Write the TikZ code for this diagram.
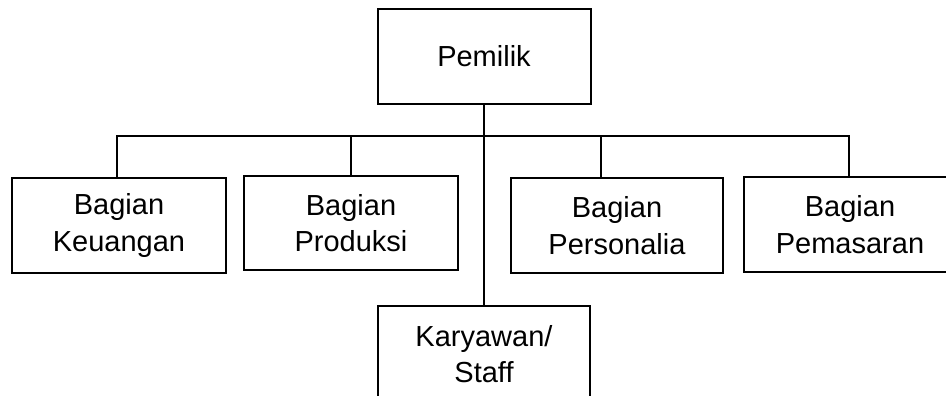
\documentclass[tikz,border=0pt]{standalone}
\usepackage{fontspec}
\setmainfont{Liberation Sans}
\begin{document}
\begin{tikzpicture}[x=1pt,y=-1pt,
  orgbox/.style={draw=black,line width=2pt,fill=white,rectangle,minimum width=213pt,minimum height=95pt,inner sep=0pt,align=center,font=\fontsize{29}{36.5}\selectfont},
  link/.style={draw=black,line width=2pt}]
\useasboundingbox (0,0) rectangle (946,396);
\clip (0,0) rectangle (946,396);
\fill[white] (0,0) rectangle (946,396);
\node[orgbox] (pem) at (484,56.5) {Pemilik};
\node[orgbox,minimum width=214pt] (keu) at (119,225.5) {Bagian\\Keuangan};
\node[orgbox,minimum width=214pt,minimum height=94pt] (pro) at (351,223) {Bagian\\Produksi};
\node[orgbox,minimum width=212pt] (per) at (617,225.5) {Bagian\\Personalia};
\node[orgbox,minimum width=212pt] (pms) at (850,224.5) {Bagian\\Pemasaran};
\node[orgbox,minimum width=212pt,minimum height=96pt] (kar) at (484,354) {Karyawan/\\Staff};
\coordinate (bus) at (484,136);
\draw[link] (pem.south) -- (kar.north);
\draw[link] ([xshift=-2pt]keu.north) |- (bus) -| ([xshift=-1pt]pms.north);
\draw[link] (pro.north) -- (pro.north |- bus);
\draw[link] ([xshift=-16pt]per.north) -- ([xshift=-16pt]per.north |- bus);
\end{tikzpicture}
\end{document}
